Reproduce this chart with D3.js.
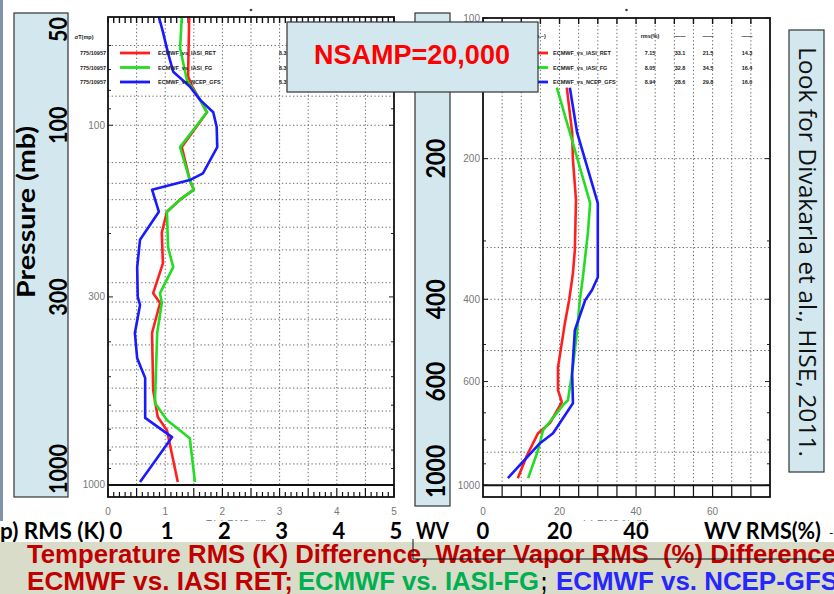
<!DOCTYPE html>
<html>
  <head>
    <meta charset="UTF-8" />
    <title>Temperature / Water Vapor RMS difference profiles</title>
    <script src="https://d3js.org/d3.v7.min.js"></script>
    <style>
      body { margin: 0; background: #fff; }
      svg { display: block; }
      text { white-space: pre; }
    </style>
  </head>
  <body>
    <div id="chart"></div>
    <script>
      // ---- Temperature RMS (K) profiles, pressure in mb ----
      var tPresRet = [50, 73, 78, 85, 92, 115, 142, 151, 161, 174, 199, 242, 293, 312, 378, 545, 647, 704, 981];
      var tRmsRet = [1.42, 1.40, 1.47, 1.61, 1.73, 1.29, 1.43, 1.50, 1.26, 1.03, 0.94, 0.96, 0.79, 0.91, 0.77, 0.79, 0.87, 1.03, 1.22];

      var tPresFg = [50, 61, 75, 85, 92, 115, 142, 151, 161, 174, 218, 248, 293, 312, 378, 592, 660, 741, 981];
      var tRmsFg = [1.29, 1.26, 1.38, 1.61, 1.73, 1.26, 1.43, 1.50, 1.26, 1.03, 1.05, 1.14, 0.91, 0.94, 0.86, 0.82, 1.03, 1.43, 1.52];

      var tPresGfs = [50, 55, 63, 71, 78, 85, 92, 101, 115, 136, 142, 151, 174, 208, 248, 300, 316, 378, 444, 504, 651, 736, 799, 981];
      var tRmsGfs = [0.89, 0.96, 1.05, 1.14, 1.43, 1.61, 1.84, 1.90, 1.91, 1.66, 1.43, 0.77, 0.89, 0.56, 0.51, 0.52, 0.56, 0.47, 0.51, 0.65, 0.65, 1.12, 0.96, 0.56];

      // ---- Water vapor RMS (%) profiles ----
      var wvPresRet = [141, 176, 201, 245, 314, 352, 402, 450, 559, 626, 664, 736, 774, 863, 966];
      var wvRmsRet = [21.9, 23.3, 23.5, 24.3, 24.0, 23.5, 22.5, 21.4, 19.6, 19.6, 20.6, 17.5, 14.4, 11.5, 9.1];

      var wvPresFg = [141, 176, 249, 289, 359, 402, 466, 559, 658, 674, 763, 841, 966];
      var wvRmsFg = [19.3, 22.7, 28.0, 27.4, 26.1, 25.3, 24.6, 23.5, 22.2, 20.9, 15.7, 14.4, 11.8];

      var wvPresGfs = [141, 176, 249, 359, 382, 402, 466, 576, 668, 774, 813, 966];
      var wvRmsGfs = [22.7, 24.6, 30.0, 30.0, 28.5, 26.7, 24.0, 23.3, 23.5, 18.3, 14.9, 6.5];

      // ticks / grids
      var tXTicks = [0, 1, 2, 3, 4, 5];
      var tPresTicks = [100, 300, 1000];
      var tPresMinor = [60, 70, 80, 90, 200, 400, 500, 600, 700, 800, 900];
      var tPresGrid = [60, 83, 100, 127, 145, 161, 192, 222, 274, 310, 346, 408, 479, 538, 623, 694, 784, 874];

      var wvXTicks = [0, 20, 40, 60];
      var wvPresTicks = [100, 200, 400, 600, 1000];
      var wvPresMinor = [300, 500, 700, 800, 900];
      var wvPresGrid = [200, 310, 400, 515, 615, 850];

      // legend texts (scanned, barely legible)
      var seriesNames = ["ECMWF_vs_IASI_RET", "ECMWF_vs_IASI_FG", "ECMWF_vs_NCEP_GFS"];
      var seriesColors = ["#ff1f1f", "#22dd22", "#1a1aff"];
      var tLegendLeft = ["775/10957", "775/10957", "775/10957"];
      var wvStats = [
        ["7.15", "33.1", "21.5", "14.3"],
        ["8.05", "32.8", "34.5", "16.4"],
        ["8.94", "28.6", "29.8", "16.0"]
      ];

      // slide annotations
      var slideTLabels = [50, 100, 300, 1000];
      var slideWvLabels = [200, 400, 600, 1000];

      var W = 834, H = 594;
      var svg = d3
        .select("#chart")
        .append("svg")
        .attr("width", W)
        .attr("height", H)
        .style("font-family", "'Liberation Sans', Arial, sans-serif");

      // scales
      var tBox = { left: 108, right: 394, top: 17, bottom: 497 };
      var xT = d3.scaleLinear().domain([0, 5]).range([tBox.left, tBox.right]);
      var yT = d3.scaleLog().domain([50, 1080]).range([tBox.top, tBox.bottom]);

      var wBox = { left: 483, right: 770, top: 18, bottom: 497 };
      var xW = d3.scaleLinear().domain([0, 75]).range([wBox.left, wBox.right]);
      var yW = d3.scaleLog().domain([100, 1060]).range([wBox.top, wBox.bottom]);

      function drawPanel(box, x, y, o) {
        var g = svg.append("g");
        // dotted grid
        g.selectAll(".vg")
          .data(o.xGrid)
          .enter()
          .append("line")
          .attr("x1", (d) => x(d))
          .attr("x2", (d) => x(d))
          .attr("y1", box.top)
          .attr("y2", y(1000))
          .attr("stroke", "#666")
          .attr("stroke-width", 1)
          .attr("stroke-dasharray", "1.3,2.4");
        g.selectAll(".hg")
          .data(o.yGrid)
          .enter()
          .append("line")
          .attr("x1", box.left)
          .attr("x2", box.right)
          .attr("y1", (d) => y(d))
          .attr("y2", (d) => y(d))
          .attr("stroke", "#666")
          .attr("stroke-width", 1)
          .attr("stroke-dasharray", "1.3,2.4");

        // ticks along top and bottom
        g.selectAll(".tt")
          .data(o.topTicks)
          .enter()
          .append("line")
          .attr("x1", (d) => x(d))
          .attr("x2", (d) => x(d))
          .attr("y1", box.top)
          .attr("y2", box.top + 6)
          .attr("stroke", "#111")
          .attr("stroke-width", 1.4);
        g.selectAll(".bt")
          .data(o.bottomTicks)
          .enter()
          .append("line")
          .attr("x1", (d) => x(d.v))
          .attr("x2", (d) => x(d.v))
          .attr("y1", box.bottom)
          .attr("y2", (d) => box.bottom - d.len)
          .attr("stroke", "#111")
          .attr("stroke-width", 1.2);

        // y ticks on both edges
        var yt = o.yTicks.map((d) => ({ v: d, len: 5 })).concat(o.yMinor.map((d) => ({ v: d, len: 3 })));
        [box.left, box.right].forEach(function (ex, i) {
          g.selectAll(".yt" + i)
            .data(yt)
            .enter()
            .append("line")
            .attr("x1", ex)
            .attr("x2", (d) => (i === 0 ? ex + d.len : ex - d.len))
            .attr("y1", (d) => y(d.v))
            .attr("y2", (d) => y(d.v))
            .attr("stroke", "#222");
        });

        // tick labels
        g.selectAll(".xl")
          .data(o.xTicks)
          .enter()
          .append("text")
          .attr("x", (d) => x(d))
          .attr("y", 515)
          .attr("text-anchor", "middle")
          .attr("font-size", 10)
          .attr("fill", "#777")
          .text((d) => d);
        g.selectAll(".yl")
          .data(o.yTicks)
          .enter()
          .append("text")
          .attr("x", box.left - 3)
          .attr("y", (d) => y(d) + 3.5)
          .attr("text-anchor", "end")
          .attr("font-size", 10)
          .attr("fill", "#777")
          .text((d) => d);
        g.append("text")
          .attr("x", x((x.domain()[0] + x.domain()[1]) / 2))
          .attr("y", 528)
          .attr("text-anchor", "middle")
          .attr("font-size", 10)
          .attr("fill", "#777")
          .text(o.title);

        // curves
        var line = d3
          .line()
          .x((d) => x(d[1]))
          .y((d) => y(d[0]));
        o.series.forEach(function (s, i) {
          g.append("path")
            .datum(d3.zip(s[0], s[1]))
            .attr("d", line)
            .attr("fill", "none")
            .attr("stroke", seriesColors[i])
            .attr("stroke-width", 2.6)
            .attr("stroke-linejoin", "round");
        });

        // surface line and frame
        g.append("line")
          .attr("x1", box.left)
          .attr("x2", box.right)
          .attr("y1", y(1000))
          .attr("y2", y(1000))
          .attr("stroke", "#111")
          .attr("stroke-width", 2);
        g.append("rect")
          .attr("x", box.left)
          .attr("y", box.top)
          .attr("width", box.right - box.left)
          .attr("height", box.bottom - box.top)
          .attr("fill", "none")
          .attr("stroke", "#111")
          .attr("stroke-width", 1.8);
        g.append("circle")
          .attr("cx", x((x.domain()[0] + x.domain()[1]) / 2))
          .attr("cy", 10)
          .attr("r", 1.3)
          .attr("fill", "#444");
        return g;
      }

      var tMinor = d3.range(0, 51).map((i) => i / 10);
      drawPanel(tBox, xT, yT, {
        xGrid: d3.range(1, 10).map((i) => i / 2),
        yGrid: tPresGrid,
        topTicks: tMinor,
        bottomTicks: tMinor.map((v, i) => ({ v: v, len: i % 5 === 0 ? 9 : 5 })),
        yTicks: tPresTicks,
        yMinor: tPresMinor,
        xTicks: tXTicks,
        title: "T(p) RMS difference",
        series: [
          [tPresRet, tRmsRet],
          [tPresFg, tRmsFg],
          [tPresGfs, tRmsGfs]
        ]
      });

      var wGrid = d3.range(1, 15).map((i) => i * 5);
      drawPanel(wBox, xW, yW, {
        xGrid: wGrid,
        yGrid: wvPresGrid,
        topTicks: wGrid,
        bottomTicks: wGrid.map((v) => ({ v: v, len: wBox.bottom - yW(1000) })),
        yTicks: wvPresTicks,
        yMinor: wvPresMinor,
        xTicks: wvXTicks,
        title: "\u03c3(p) RMS % difference",
        series: [
          [wvPresRet, wvRmsRet],
          [wvPresFg, wvRmsFg],
          [wvPresGfs, wvRmsGfs]
        ]
      });

      // ---- legends (tiny scanned text) ----
      var lg = svg.append("g").attr("font-size", 5.5).attr("font-weight", "bold").attr("fill", "#222");
      lg.append("text").attr("x", 84).attr("y", 39).attr("text-anchor", "middle").text("\u03c3T(mp)");
      seriesNames.forEach(function (name, i) {
        var yy = tBox.top + 36 + i * 14.5;
        lg.append("text").attr("x", tBox.left - 2).attr("y", yy + 2).attr("text-anchor", "end").text(tLegendLeft[i]);
        lg.append("line")
          .attr("x1", tBox.left + 12).attr("x2", tBox.left + 42)
          .attr("y1", yy).attr("y2", yy)
          .attr("stroke", seriesColors[i]).attr("stroke-width", 2.8);
        lg.append("text").attr("x", tBox.left + 50).attr("y", yy + 2).text(name);
        lg.append("text").attr("x", 279).attr("y", yy + 2).text("6.3");

        var wy = wBox.top + 35 + i * 14.5;
        lg.append("line")
          .attr("x1", wBox.left + 54).attr("x2", wBox.left + 65)
          .attr("y1", wy).attr("y2", wy)
          .attr("stroke", seriesColors[i]).attr("stroke-width", 2.8);
        lg.append("text").attr("x", wBox.left + 70).attr("y", wy + 2).text(name);
        wvStats[i].forEach(function (v, j) {
          lg.append("text")
            .attr("x", [650, 680, 708, 747][j])
            .attr("y", wy + 2)
            .attr("text-anchor", "middle")
            .text(v);
        });
      });
      lg.append("text").attr("x", 540).attr("y", 38).attr("text-anchor", "middle").text("(p,~)");
      ["rms(%)", "\u2014\u2014", "\u2014\u2014", "\u2014\u2014"].forEach(function (h, j) {
        lg.append("text")
          .attr("x", [650, 680, 708, 747][j])
          .attr("y", 38)
          .attr("text-anchor", "middle")
          .text(h);
      });

      // ---- slide overlays ----
      var boxFill = "#d3e8ee";
      svg.append("rect").attr("x", 0).attr("y", 0).attr("width", 3).attr("height", 542).attr("fill", "#8193a6");

      function sideBox(x0, y0, x1, y1) {
        svg.append("rect")
          .attr("x", x0).attr("y", y0)
          .attr("width", x1 - x0).attr("height", y1 - y0)
          .attr("fill", boxFill).attr("stroke", "#333").attr("stroke-width", 1.2);
      }

      // left pressure box
      sideBox(14, 13, 68, 497);
      svg.append("text")
        .attr("transform", "translate(35,212) rotate(-90)")
        .attr("text-anchor", "middle")
        .attr("font-family", "Lato, sans-serif")
        .attr("font-weight", "bold")
        .attr("font-size", 24)
        .attr("textLength", 172)
        .attr("lengthAdjust", "spacingAndGlyphs")
        .text("Pressure (mb)");
      slideTLabels.forEach(function (p) {
        var s = String(p), len = s.length * 12.5;
        var cy = Math.max(13 + len / 2 + 4, Math.min(yT(p), 497 - len / 2 - 3));
        svg.append("text")
          .attr("transform", "translate(67," + cy + ") rotate(-90)")
          .attr("text-anchor", "middle")
          .attr("font-family", "Lato, sans-serif")
          .attr("font-weight", "bold")
          .attr("font-size", 24)
          .attr("textLength", len)
          .attr("lengthAdjust", "spacingAndGlyphs")
          .text(s);
      });

      // right pressure box
      sideBox(415, 13, 450, 506);
      slideWvLabels.forEach(function (p) {
        var s = String(p), len = s.length * 13.3;
        var cy = Math.max(13 + len / 2 + 4, Math.min(yW(p), 506 - len / 2 - 8));
        svg.append("text")
          .attr("transform", "translate(445," + cy + ") rotate(-90)")
          .attr("text-anchor", "middle")
          .attr("font-family", "Lato, sans-serif")
          .attr("font-weight", "bold")
          .attr("font-size", 27)
          .attr("textLength", len)
          .attr("lengthAdjust", "spacingAndGlyphs")
          .text(s);
      });

      // reference box
      sideBox(789, 30, 824, 472);
      svg.append("text")
        .attr("transform", "translate(799,47) rotate(90)")
        .attr("font-family", "'Open Sans', sans-serif")
        .attr("font-size", 24)
        .attr("fill", "#111")
        .attr("textLength", 410)
        .attr("lengthAdjust", "spacingAndGlyphs")
        .text("Look for Divakarla et al., HISE, 2011.");

      // NSAMP box
      svg.append("rect")
        .attr("x", 287).attr("y", 22)
        .attr("width", 251).attr("height", 70)
        .attr("fill", boxFill).attr("stroke", "#333").attr("stroke-width", 1.2);
      svg.append("text")
        .attr("x", 412).attr("y", 64)
        .attr("text-anchor", "middle")
        .attr("font-weight", "bold")
        .attr("font-size", 27)
        .attr("fill", "#ff0000")
        .text("NSAMP=20,000");

      // ---- bottom rows ----
      svg.append("rect").attr("x", 0).attr("y", 521).attr("width", W).attr("height", 21).attr("fill", "#fff");
      var row = svg.append("g")
        .attr("font-family", "Lato, sans-serif")
        .attr("font-weight", "bold")
        .attr("font-size", 22)
        .attr("fill", "#000");
      row.append("text").attr("x", -6).attr("y", 539).attr("textLength", 111).attr("lengthAdjust", "spacingAndGlyphs").text("(p) RMS (K)");
      tXTicks.forEach(function (d) {
        row.append("text").attr("x", xT(d) + (d === 0 ? 8 : 2)).attr("y", 539).attr("text-anchor", "middle").text(d);
      });
      row.append("text").attr("x", 416).attr("y", 539).attr("textLength", 33).attr("lengthAdjust", "spacingAndGlyphs").text("WV");
      wvXTicks.slice(0, 3).forEach(function (d) {
        row.append("text").attr("x", xW(d)).attr("y", 539).attr("text-anchor", "middle").text(d);
      });
      row.append("text").attr("x", 704).attr("y", 539).attr("textLength", 117).attr("lengthAdjust", "spacingAndGlyphs").text("WV RMS(%)");
      row.append("text").attr("x", 829).attr("y", 537).attr("font-size", 12).attr("font-weight", "normal").text("-");

      svg.append("rect").attr("x", 0).attr("y", 542).attr("width", W).attr("height", H - 542).attr("fill", "#d9dcc8");
      var cap = svg.append("g")
        .attr("font-family", "'Liberation Sans', Arial, sans-serif")
        .attr("font-weight", "bold")
        .attr("font-size", 25);
      cap.append("text")
        .attr("x", 27).attr("y", 563)
        .attr("fill", "#c00000")
        .attr("textLength", 809)
        .attr("lengthAdjust", "spacingAndGlyphs")
        .text("Temperature RMS (K) Difference, Water Vapor RMS  (%) Difference");
      var capParts = [
        { t: "ECMWF vs. IASI RET;", x: 27, len: 266, c: "#c00000" },
        { t: "ECMWF vs. IASI-FG", x: 298, len: 241, c: "#00b050" },
        { t: ";", x: 541, len: 6, c: "#000" },
        { t: "ECMWF vs. NCEP-GFS", x: 556, len: 282, c: "#2626ff" }
      ];
      capParts.forEach(function (p) {
        cap.append("text")
          .attr("x", p.x).attr("y", 590)
          .attr("fill", p.c)
          .attr("textLength", p.len)
          .attr("lengthAdjust", "spacingAndGlyphs")
          .text(p.t);
      });
      svg.append("path")
        .attr("d", "M413,539V559H834")
        .attr("fill", "none")
        .attr("stroke", "#111")
        .attr("stroke-width", 1);
    </script>
  </body>
</html>
